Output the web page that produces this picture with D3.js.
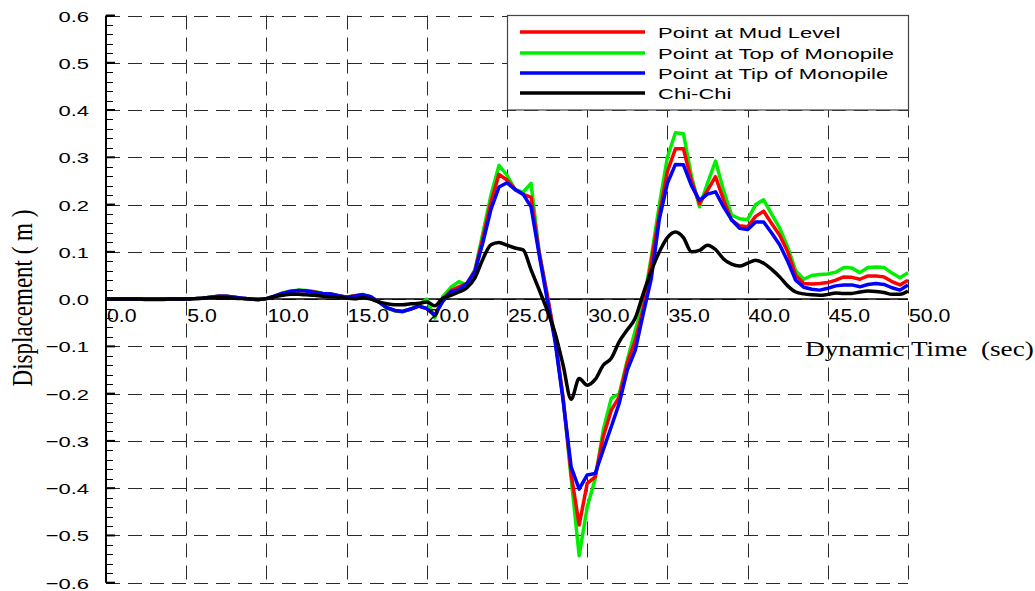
<!DOCTYPE html>
<html>
<head>
<meta charset="utf-8">
<script src="https://cdn.jsdelivr.net/npm/d3@7"></script>
<style>
  html, body { margin: 0; padding: 0; background: #fff; }
  svg { display: block; }
</style>
</head>
<body>
<svg id="chart" width="1035" height="591"></svg>
<script>
// ---- Data ----
const time = [0,0.5,1,1.5,2,2.5,3,3.5,4,4.5,5,5.5,6,6.5,7,7.5,8,8.5,9,9.5,
  10,10.5,11,11.5,12,12.5,13,13.5,14,14.5,15,15.5,16,16.5,17,17.5,18,18.5,19,19.5,
  20,20.5,21,21.5,22,22.5,23,23.5,24,24.5,25,25.5,26,26.5,27,27.5,28,28.5,29,29.5,
  30,30.5,31,31.5,32,32.5,33,33.5,34,34.5,35,35.5,36,36.5,37,37.5,38,38.5,39,39.5,
  40,40.5,41,41.5,42,42.5,43,43.5,44,44.5,45,45.5,46,46.5,47,47.5,48,48.5,49,49.5,50];

const mudLevel = [0,0,0,0,0,0,0,0,0,0,0,0.001,0.002,0.004,0.006,0.006,0.004,0.002,0,-0.001,
  0.001,0.006,0.012,0.016,0.018,0.017,0.015,0.012,0.011,0.007,0.004,0.007,0.009,0.005,-0.006,-0.018,-0.024,-0.026,-0.021,-0.015,
  -0.02,-0.035,0,0.018,0.026,0.033,0.06,0.13,0.205,0.264,0.252,0.232,0.222,0.215,0.1,0.01,-0.085,-0.21,-0.37,-0.478,
  -0.39,-0.376,-0.291,-0.235,-0.207,-0.135,-0.087,-0.02,0.08,0.18,0.27,0.318,0.318,0.25,0.202,0.23,0.259,0.21,0.167,0.155,
  0.153,0.175,0.186,0.16,0.135,0.1,0.05,0.033,0.032,0.033,0.035,0.04,0.047,0.046,0.042,0.049,0.049,0.047,0.037,0.03,0.04];

const topMonopile = [0,0,0,0,0,0,0,0,0,0,0,0.001,0.002,0.004,0.006,0.006,0.004,0.002,0,-0.001,
  0.001,0.006,0.013,0.017,0.019,0.018,0.016,0.012,0.011,0.007,0.004,0.007,0.01,0.005,-0.006,-0.019,-0.025,-0.027,-0.021,-0.012,
  0.0,-0.04,0.005,0.025,0.037,0.03,0.062,0.14,0.22,0.283,0.262,0.232,0.226,0.245,0.1,0.01,-0.085,-0.21,-0.38,-0.543,
  -0.44,-0.38,-0.277,-0.21,-0.2,-0.129,-0.066,-0.01,0.09,0.2,0.3,0.352,0.35,0.26,0.195,0.245,0.292,0.23,0.178,0.17,
  0.168,0.2,0.21,0.18,0.15,0.11,0.06,0.042,0.05,0.052,0.053,0.057,0.067,0.066,0.056,0.067,0.068,0.067,0.055,0.045,0.056];

const tipMonopile = [0,0,0,0,0,0,0,0,0,0,0,0.001,0.002,0.004,0.006,0.006,0.004,0.002,0,-0.001,
  0.001,0.006,0.012,0.016,0.018,0.017,0.014,0.012,0.011,0.007,0.004,0.006,0.009,0.005,-0.006,-0.018,-0.024,-0.026,-0.021,-0.015,
  -0.02,-0.034,-0.005,0.015,0.02,0.033,0.058,0.12,0.19,0.237,0.246,0.232,0.222,0.195,0.095,0,-0.09,-0.215,-0.355,-0.402,
  -0.372,-0.369,-0.319,-0.27,-0.22,-0.15,-0.108,-0.03,0.044,0.17,0.245,0.285,0.284,0.24,0.209,0.222,0.227,0.195,0.168,0.15,
  0.147,0.163,0.163,0.14,0.115,0.08,0.04,0.025,0.021,0.019,0.023,0.028,0.03,0.03,0.026,0.031,0.033,0.031,0.024,0.019,0.03];

const chiChi = [0,0,0,0,0,-0.001,-0.001,-0.001,0,0,0,0.001,0.002,0.003,0.003,0.003,0.002,0.001,0,-0.001,
  0.001,0.005,0.008,0.01,0.01,0.009,0.008,0.006,0.005,0.004,0.002,0.001,0.003,0,-0.006,-0.01,-0.012,-0.012,-0.01,-0.009,
  -0.006,-0.014,0.002,0.008,0.015,0.024,0.045,0.085,0.115,0.12,0.114,0.108,0.104,0.062,0.02,-0.023,-0.072,-0.14,-0.212,-0.168,
  -0.182,-0.17,-0.14,-0.125,-0.09,-0.065,-0.04,0.012,0.06,0.1,0.13,0.142,0.13,0.1,0.103,0.114,0.105,0.085,0.074,0.07,
  0.076,0.082,0.076,0.063,0.047,0.028,0.015,0.011,0.009,0.008,0.01,0.013,0.012,0.012,0.015,0.017,0.016,0.014,0.01,0.01,0.017];

const seriesNames = ["Point at Mud Level", "Point at Top of Monopile", "Point at Tip of Monopile", "Chi-Chi"];
const seriesColors = ["#ff0000", "#00ee00", "#0000ff", "#000000"];
const seriesValues = [mudLevel, topMonopile, tipMonopile, chiChi];

const xTicks = [0,5,10,15,20,25,30,35,40,45,50];
const yTicks = [-0.6,-0.5,-0.4,-0.3,-0.2,-0.1,0,0.1,0.2,0.3,0.4,0.5,0.6];
const xTitle = "Dynamic Time  (sec)";
const yTitle = "Displacement ( m )";

// ---- Layout ----
const svg = d3.select("#chart");
const x = d3.scaleLinear().domain([0, 50]).range([106, 908]);
const y = d3.scaleLinear().domain([-0.6, 0.6]).range([582.7, 15.5]);

const grid = svg.append("g").attr("stroke", "#2a2a2a").attr("stroke-width", 1)
  .attr("stroke-dasharray", "14,8");
grid.selectAll("line.h").data(yTicks).join("line")
  .attr("x1", x(0)).attr("x2", x(50))
  .attr("y1", d => Math.round(y(d)) + 0.5).attr("y2", d => Math.round(y(d)) + 0.5);
grid.selectAll("line.v").data(xTicks.slice(1)).join("line")
  .attr("y1", y(0.6)).attr("y2", y(-0.6))
  .attr("x1", d => Math.round(x(d)) + 0.5).attr("x2", d => Math.round(x(d)) + 0.5);

// Y axis line and ticks
const yAx = svg.append("g");
yAx.append("line").attr("x1", x(0)).attr("x2", x(0)).attr("y1", y(0.6)).attr("y2", y(-0.6))
  .attr("stroke", "#000").attr("stroke-width", 2);
const minor = d3.range(-30, 31).map(i => i * 0.02);
yAx.selectAll("line.minor").data(minor).join("line")
  .attr("x1", x(0)).attr("x2", x(0) + 7)
  .attr("y1", d => Math.round(y(d)) + 0.5).attr("y2", d => Math.round(y(d)) + 0.5)
  .attr("stroke", "#000").attr("stroke-width", 1);
yAx.selectAll("line.major").data(yTicks).join("line")
  .attr("x1", x(0)).attr("x2", x(0) + 9)
  .attr("y1", d => y(d)).attr("y2", d => y(d))
  .attr("stroke", "#000").attr("stroke-width", 2);
yAx.selectAll("text").data(yTicks).join("text")
  .attr("transform", d => `translate(89,${y(d) + 6}) scale(1.42,1)`)
  .attr("text-anchor", "end")
  .attr("font-family", "Liberation Sans, Arial, sans-serif")
  .attr("font-size", 15.5).attr("fill", "#000")
  .text(d => d3.format(".1f")(d));

// X axis line
svg.append("line").attr("x1", x(0)).attr("x2", x(50)).attr("y1", y(0)).attr("y2", y(0))
  .attr("stroke", "#000").attr("stroke-width", 1.5);

// Series lines (drawn green, red, blue, black)
const line = d3.line().x((d, i) => x(time[i])).y(d => y(d));
const smooth = d3.line().x((d, i) => x(time[i])).y(d => y(d)).curve(d3.curveMonotoneX);
[1, 0, 2, 3].forEach(k => {
  svg.append("path").datum(seriesValues[k])
    .attr("fill", "none").attr("stroke", seriesColors[k]).attr("stroke-width", 3.5)
    .attr("stroke-linejoin", "round")
    .attr("d", k === 3 ? smooth : line);
});

// X tick labels
svg.append("g").selectAll("text").data(xTicks).join("text")
  .attr("transform", d => `translate(${x(d) + 1},321.5) scale(1.15,1)`)
  .attr("font-family", "Liberation Sans, Arial, sans-serif")
  .attr("font-size", 18.5).attr("fill", "#000")
  .text(d => d3.format(".1f")(d));

// Titles
svg.append("text")
  .attr("transform", "translate(805,356) scale(1.36,1)")
  .attr("font-family", "Liberation Serif, Times New Roman, serif")
  .attr("font-size", 20).attr("fill", "#000")
  .style("white-space", "pre")
  .text(xTitle);
svg.append("text")
  .attr("transform", "translate(32,298) rotate(-90) scale(1,1.25)")
  .attr("text-anchor", "middle")
  .attr("font-family", "Liberation Serif, Times New Roman, serif")
  .attr("font-size", 23).attr("fill", "#000")
  .text(yTitle);

// Legend
const lg = svg.append("g");
lg.append("rect").attr("x", 507.5).attr("y", 15.5).attr("width", 401).attr("height", 94.5)
  .attr("fill", "#fff").attr("stroke", "#444").attr("stroke-width", 1.2);
const legY = [32, 53, 73, 93];
seriesNames.forEach((name, i) => {
  lg.append("line").attr("x1", 520).attr("x2", 645).attr("y1", legY[i]).attr("y2", legY[i])
    .attr("stroke", seriesColors[i]).attr("stroke-width", 3.5);
  lg.append("text")
    .attr("transform", `translate(658,${legY[i] + 6}) scale(1.47,1)`)
    .attr("font-family", "Liberation Sans, Arial, sans-serif")
    .attr("font-size", 15).attr("fill", "#000")
    .text(name);
});
</script>
</body>
</html>
